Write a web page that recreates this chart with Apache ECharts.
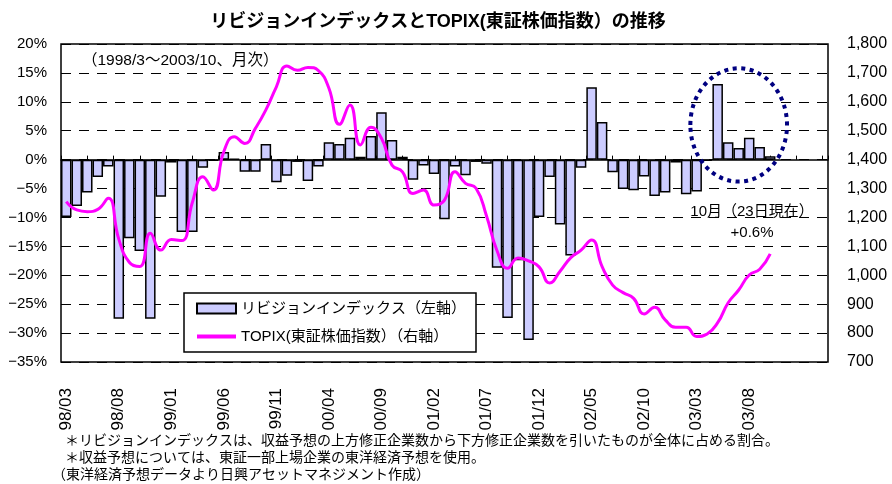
<!DOCTYPE html>
<html>
<head>
<meta charset="utf-8">
<script src="https://cdn.jsdelivr.net/npm/echarts@6/dist/echarts.min.js"></script>
<style>
  html, body { margin: 0; padding: 0; background: #fff; }
  #chart { width: 892px; height: 484px; }
</style>
</head>
<body>
<div id="chart"></div>
<script>
// 月次 1998/3 ～ 2003/10
const months = [
  '98/03', '98/04', '98/05', '98/06', '98/07', '98/08', '98/09', '98/10', '98/11', '98/12',
  '99/01', '99/02', '99/03', '99/04', '99/05', '99/06', '99/07', '99/08', '99/09', '99/10', '99/11', '99/12',
  '00/01', '00/02', '00/03', '00/04', '00/05', '00/06', '00/07', '00/08', '00/09', '00/10', '00/11', '00/12',
  '01/01', '01/02', '01/03', '01/04', '01/05', '01/06', '01/07', '01/08', '01/09', '01/10', '01/11', '01/12',
  '02/01', '02/02', '02/03', '02/04', '02/05', '02/06', '02/07', '02/08', '02/09', '02/10', '02/11', '02/12',
  '03/01', '03/02', '03/03', '03/04', '03/05', '03/06', '03/07', '03/08', '03/09', '03/10',
];
// 軸の右側の空き (5か月分)
const blankMonths = ['', '', '', '', ''];

// リビジョンインデックス (%)
const revisionIndex = [
  -9.9, -8.0, -5.7, -3.0, -1.2, -27.5, -13.6, -15.8, -27.5, -6.4,
  -0.5, -12.5, -12.5, -1.4, -0.2, 1.3, 0.1, -2.1, -2.1, 2.7,
  -3.9, -2.8, -0.4, -3.7, -1.2, 3.0, 2.7, 3.8, 0.5, 4.1,
  8.2, 3.4, 0.5, -3.5, -1.0, -2.5, -10.3, -1.2, -2.7, -0.4,
  -0.7, -18.7, -27.4, -17.4, -31.2, -9.9, -3.0, -11.2, -16.6, -1.4,
  12.5, 6.5, -2.2, -5.1, -5.3, -2.9, -6.3, -5.7, -0.5, -6.0,
  -5.5, -0.2, 13.1, 3.0, 2.0, 3.8, 2.2, 0.6,
];

// TOPIX
const topix = [
  1255, 1226, 1220, 1228, 1266, 1125, 1045, 1030, 1145, 1087,
  1124, 1120, 1252, 1341, 1295, 1428, 1479, 1456, 1508, 1572,
  1652, 1724, 1709, 1719, 1708, 1647, 1522, 1589, 1451, 1512,
  1474, 1381, 1358, 1283, 1295, 1243, 1260, 1358, 1318, 1301,
  1205, 1085, 1024, 1060, 1050, 1029, 973, 1014, 1060, 1087,
  1122, 1030, 966, 940, 920, 866, 889, 846, 820, 820,
  788, 797, 836, 905, 949, 1001, 1021, 1074,
];

const font = "'Liberation Sans', 'Noto Sans CJK JP', sans-serif";
const barName = 'リビジョンインデックス（左軸）';
const lineName = 'TOPIX(東証株価指数）（右軸）';

const chart = echarts.init(document.getElementById('chart'));

const option = {
  animation: false,
  backgroundColor: '#fff',
  textStyle: { fontFamily: font, color: '#000' },
  grid: {
    left: 61, right: 64, top: 44, bottom: 122,
    show: true, borderColor: '#000', borderWidth: 1.5,
  },
  legend: {
    orient: 'vertical',
    left: 184, top: 293,
    itemWidth: 39, itemHeight: 10, itemGap: 13,
    padding: [8, 10, 8, 11],
    backgroundColor: '#fff',
    borderColor: '#000', borderWidth: 1.5,
    textStyle: { fontFamily: font, fontSize: 15, color: '#000' },
    data: [
      { name: barName, icon: 'rect' },
      { name: lineName, itemStyle: { opacity: 0 }, lineStyle: { width: 4 } },
    ],
  },
  xAxis: [{
    type: 'category',
    data: months.concat(blankMonths),
    axisLine: { show: false, onZero: false },
    axisTick: { show: false },
    axisLabel: {
      interval: 4, rotate: 90, margin: 26,
      fontSize: 17, color: '#000', fontFamily: font,
    },
  }, {
    // 0% 線上の目盛り (2.5か月ごと)
    type: 'value',
    position: 'bottom',
    min: 0, max: 73, interval: 2.5,
    axisLine: { show: true, onZero: true, onZeroAxisIndex: 0, lineStyle: { color: '#000', width: 1.5 } },
    axisTick: { show: true, inside: true, length: 4, lineStyle: { color: '#000', width: 1 } },
    axisLabel: { show: false },
    splitLine: { show: false },
  }],
  yAxis: [{
    type: 'value',
    min: -35, max: 20, interval: 5,
    axisLine: { show: false },
    axisTick: { show: false },
    axisLabel: {
      margin: 14, fontSize: 15, color: '#000', fontFamily: font,
      formatter: v => (v < 0 ? '−' + (-v) : v) + '%',
    },
    splitLine: { lineStyle: { color: '#000', width: 1, type: [10, 8] } },
  }, {
    type: 'value',
    min: 700, max: 1800, interval: 100,
    axisLine: { show: false },
    axisTick: { show: false },
    axisLabel: {
      margin: 19, fontSize: 16, color: '#000', fontFamily: font,
      formatter: v => v.toLocaleString('en-US'),
    },
    splitLine: { show: false },
  }],
  series: [{
    name: barName,
    type: 'bar',
    xAxisIndex: 0, yAxisIndex: 0,
    data: revisionIndex,
    barWidth: '100%',
    itemStyle: { color: '#CCCCFF', borderColor: '#000', borderWidth: 1.5 },
  }, {
    name: lineName,
    type: 'line',
    xAxisIndex: 0, yAxisIndex: 1,
    data: topix,
    smooth: 0.5,
    symbol: 'none',
    lineStyle: { color: '#FF00FF', width: 3 },
    itemStyle: { color: '#FF00FF' },
    z: 5,
  }],
  graphic: [{
    type: 'text', x: 438, y: 22,
    style: {
      text: 'リビジョンインデックスとTOPIX(東証株価指数）の推移',
      font: 'bold 18px ' + font, fill: '#000', align: 'center', verticalAlign: 'middle',
    },
  }, {
    type: 'text', x: 82, y: 61,
    style: { text: '（1998/3～2003/10、月次）', font: '15.5px ' + font, fill: '#000', verticalAlign: 'middle' },
  }, {
    type: 'text', x: 752, y: 212,
    style: { text: '10月（23日現在）', font: '15px ' + font, fill: '#000', align: 'center', verticalAlign: 'middle' },
  }, {
    type: 'text', x: 752, y: 233,
    style: { text: '+0.6%', font: '15px ' + font, fill: '#000', align: 'center', verticalAlign: 'middle' },
  }, {
    type: 'text', x: 65, y: 441,
    style: { text: '＊リビジョンインデックスは、収益予想の上方修正企業数から下方修正企業数を引いたものが全体に占める割合。', font: '14px ' + font, fill: '#000', verticalAlign: 'middle' },
  }, {
    type: 'text', x: 65, y: 458,
    style: { text: '＊収益予想については、東証一部上場企業の東洋経済予想を使用。', font: '14px ' + font, fill: '#000', verticalAlign: 'middle' },
  }, {
    type: 'text', x: 52, y: 475,
    style: { text: '（東洋経済予想データより日興アセットマネジメント作成）', font: '14px ' + font, fill: '#000', verticalAlign: 'middle' },
  }],
};

chart.setOption(option);

// 直近の上方修正を囲む点線の楕円
const c = chart.convertToPixel({ xAxisIndex: 0, yAxisIndex: 0 }, [64, 6]);
const a = chart.convertToPixel({ xAxisIndex: 0, yAxisIndex: 0 }, [60, 15.8]);
const b = chart.convertToPixel({ xAxisIndex: 0, yAxisIndex: 0 }, [68, 15.8]);
const rx = (b[0] - a[0]) / 2 * 1.15;
const ry = c[1] - a[1];
chart.setOption({
  graphic: [{
    id: 'ring', type: 'ellipse', z: 10,
    shape: { cx: c[0], cy: c[1], rx: rx, ry: ry },
    style: { fill: 'none', stroke: '#000080', lineWidth: 4, lineDash: [4, 4.5] },
  }],
});
</script>
</body>
</html>
